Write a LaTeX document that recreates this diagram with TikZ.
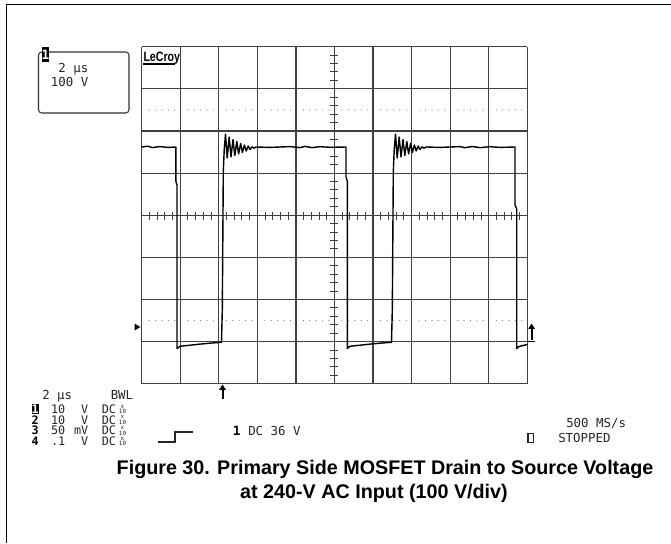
\documentclass[tikz,border=0pt]{standalone}
\usepackage{fontspec}
\setmainfont{Liberation Sans}
\newfontfamily\scopefont{DejaVu Sans Mono}
\usetikzlibrary{arrows.meta}
\tikzset{
  gridline/.style={line width=0.85pt, black!75},
  dotmark/.style={fill=black!50},
  axistick/.style={line width=0.75pt, black!75},
  trace/.style={line width=1.05pt, black, line join=round},
  scopetxt/.style={font=\scopefont\fontsize{9.3}{10}\selectfont, inner sep=0pt, text=black!85},
  rowtxt/.style={font=\scopefont\fontsize{8.8}{9}\selectfont, inner sep=0pt, text=black!85},
  scopebold/.style={font=\scopefont\bfseries\fontsize{9.6}{10}\selectfont, inner sep=0pt},
  rowbold/.style={font=\scopefont\bfseries\fontsize{8.8}{9}\selectfont, inner sep=0pt},
  captxt/.style={font=\bfseries\fontsize{14.8}{18}\selectfont, inner sep=0pt},
  tinytxt/.style={font=\scopefont\fontsize{4.4}{4.2}\selectfont, inner sep=0pt, align=center, text=black!85},
  markarrow/.style={line width=1.5pt, -{Triangle[width=4.8pt,length=4pt]}},
}
\begin{document}
\begin{tikzpicture}[x=0.75pt,y=-0.75pt]
\useasboundingbox (0,0) rectangle (671,543);
\fill[white] (0,0) rectangle (671,543);
% outer frame (left and top only)
\draw[line width=0.9pt] (6.5,543) -- (6.5,4.5) -- (671,4.5);

% grid
\foreach \i in {0,...,10} \draw[gridline] ({141.7+\i*38.56},46.7) -- ({141.7+\i*38.56},383.7);
\foreach \j in {0,...,8} \draw[gridline] (141.7,{46.7+\j*42.125}) -- (527.3,{46.7+\j*42.125});

% dotted reference lines
\foreach \i in {0,...,9} \foreach \k in {0,...,4} {
  \fill[dotmark] ({141.7+\i*38.56+7.5+\k*6.4},110) circle (0.6);
  \fill[dotmark] ({141.7+\i*38.56+7.5+\k*6.4},320.5) circle (0.6);
}

% axis ticks
\foreach \j in {1,...,39} \draw[axistick] (330.3,{46.7+\j*8.425}) -- (338.3,{46.7+\j*8.425});
\foreach \i in {1,...,49} \draw[axistick] ({141.7+\i*7.712},211.7) -- ({141.7+\i*7.712},219.7);

% waveform
\draw[trace] (141.7,147) -- (148,146.2) -- (152,147.6) -- (160,146.6) -- (168,147.4) -- (175.8,147)
  -- (175.8,181) -- (177,185) -- (177,348.5) -- (180,346.3) -- (190,345.2) -- (200,344.1) -- (212,343) -- (221.5,342.3)
  -- (222.3,310) -- (223.3,172) -- (224.2,150) -- (225.5,134)
  -- (227.2,158) -- (229.2,137) -- (231,157) -- (233,139.5) -- (234.8,155.5) -- (236.8,141.5)
  -- (238.6,154) -- (240.6,143.5) -- (242.4,152.5) -- (244.4,145) -- (246.2,151) -- (248.2,146)
  -- (250,149.5) -- (252,146.8) -- (254,148.2) -- (256,147) -- (270,147.4) -- (290,146.6)
  -- (300,147.6) -- (305,146.4) -- (312,147.6) -- (320,146.7) -- (330,147.3) -- (346,147)
  -- (346,177) -- (347.3,181) -- (347.3,348.5) -- (350,346.3) -- (360,345.2) -- (370,344.1) -- (382,343) -- (391.5,342.3)
  -- (392.3,310) -- (393.3,172) -- (394.2,150) -- (395.5,134)
  -- (397.2,158) -- (399.2,137) -- (401,157) -- (403,139.5) -- (404.8,155.5) -- (406.8,141.5)
  -- (408.6,154) -- (410.6,143.5) -- (412.4,152.5) -- (414.4,145) -- (416.2,151) -- (418.2,146)
  -- (420,149.5) -- (422,146.8) -- (424,148.2) -- (426,147) -- (440,147.4) -- (460,146.6)
  -- (465,147.7) -- (472,146.5) -- (480,147.6) -- (490,146.7) -- (500,147.4) -- (515,147)
  -- (515,205) -- (516.7,209) -- (516.7,348.5) -- (519,346.5) -- (523,345.5) -- (527.3,344.5);

% right level marker
\draw[line width=1pt] (527.3,341.7) -- (534.5,341.7);
\draw[markarrow] (531.6,340) -- (531.6,323.5);
% left ground marker
\fill (134.5,323.5) -- (140.5,327) -- (134.5,330.5) -- cycle;
% trigger position marker
\draw[markarrow] (222.5,398.5) -- (222.5,384.5);

% LeCroy logo
\node[anchor=base west, inner sep=0pt, font=\bfseries\fontsize{10.2}{11}\selectfont, xscale=0.78] (logo) at (143.3,61) {LeCroy};
\draw[line width=0.9pt] (143.3,64) -- (174.5,64);

% top-left channel box
\draw[line width=0.8pt, black!80, rounded corners=2.5pt] (38.5,52) rectangle (129,113);
\fill (41.7,46.7) rectangle (49.3,61.7);
\node[anchor=base, inner sep=0pt, text=white, font=\scopefont\bfseries\fontsize{9.6}{10}\selectfont] (boxone) at (45.5,59) {1};
\node[scopetxt, anchor=base east] (boxtime) at (88.5,72) {2 μs};
\node[scopetxt, anchor=base east] (boxvolt) at (88.5,86) {100 V};

% bottom status text
\node[scopetxt, anchor=base west] (tdiv) at (42,399.5) {2 μs};
\node[scopetxt, anchor=base west] (bwl) at (110.5,399.5) {BWL};

\fill (31.6,404.2) rectangle (38.6,414.2);
\node[anchor=base, inner sep=0pt, text=white, font=\scopefont\bfseries\fontsize{8.8}{9}\selectfont] (chone) at (35.1,413) {1};
\node[rowbold, anchor=base] (chtwo) at (35.1,424.2) {2};
\node[rowbold, anchor=base] (chthree) at (35.1,434.9) {3};
\node[rowbold, anchor=base] (chfour) at (35.1,445.6) {4};

\node[rowtxt, anchor=base east] (vone) at (65.5,413.5) {10};
\node[rowtxt, anchor=base east] (vtwo) at (65.5,424.2) {10};
\node[rowtxt, anchor=base east] (vthree) at (65.5,434.9) {50};
\node[rowtxt, anchor=base east] (vfour) at (65.5,445.6) {.1};

\node[rowtxt, anchor=base east] (uone) at (88.5,413.5) {V};
\node[rowtxt, anchor=base east] (utwo) at (88.5,424.2) {V};
\node[rowtxt, anchor=base east] (uthree) at (88.5,434.9) {mV};
\node[rowtxt, anchor=base east] (ufour) at (88.5,445.6) {V};

\node[rowtxt, anchor=base west] (cone) at (101.5,413.5) {DC};
\node[rowtxt, anchor=base west] (ctwo) at (101.5,424.2) {DC};
\node[rowtxt, anchor=base west] (cthree) at (101.5,434.9) {DC};
\node[rowtxt, anchor=base west] (cfour) at (101.5,445.6) {DC};

\node[tinytxt] (xone) at (122.5,409.5) {x\\10};
\node[tinytxt] (xtwo) at (122.5,420.2) {x\\10};
\node[tinytxt] (xthree) at (122.5,430.9) {x\\10};
\node[tinytxt] (xfour) at (122.5,441.6) {x\\10};

% trigger setup
\draw[line width=0.8pt, black!85] (157.5,442) -- (175,442) -- (175,432) -- (193,432);
\node[scopebold, anchor=base west] (trgone) at (232.5,435) {1};
\node[scopetxt, anchor=base west] (trgtxt) at (248,435) {DC 36 V};

\node[scopetxt, anchor=base west] (rate) at (566,427.5) {500 MS/s};
\draw[line width=0.8pt, black!85] (528,433.8) rectangle (533.3,442.3);
\node[scopetxt, anchor=base west] (stopped) at (558,442.5) {STOPPED};

% caption
\node[captxt, anchor=base] (capone) at (385,474.5) {Figure 30. Primary Side MOSFET Drain to Source Voltage};
\node[captxt, anchor=base] (captwo) at (374,498.5) {at 240-V AC Input (100 V/div)};
\end{tikzpicture}
\end{document}
